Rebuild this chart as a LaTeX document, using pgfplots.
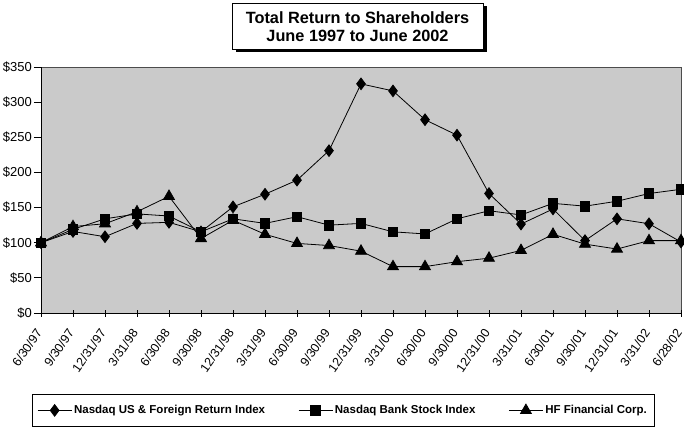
\documentclass[border=0pt]{standalone}
\usepackage{pgfplots}
\pgfplotsset{compat=1.18}
\usepackage{fontspec}
\setmainfont{Liberation Sans}

\definecolor{plotbg}{RGB}{202,202,202}

\begin{document}
\begin{tikzpicture}
\path[use as bounding box] (0pt,0pt) rectangle (684pt,-430pt);
% title box with its shadow
\fill[black] (236pt,-6pt) rectangle (487pt,-52pt);
\node[draw=black, fill=white, line width=0.8pt, minimum width=251pt, minimum height=46pt,
      align=center, inner sep=0pt, font=\bfseries\fontsize{16.3}{18.5}\selectfont]
      at (357.5pt,-26.5pt) {Total Return to Shareholders\\June 1997 to June 2002};
\begin{axis}[
    at={(41pt,-313pt)}, anchor=south west,
    scale only axis, width=640pt, height=246pt,
    xmin=0, xmax=20, ymin=0, ymax=350,
    axis x line*=bottom, axis y line*=left,
    axis line style={black, line width=0.8pt},
    axis background/.style={fill=plotbg, draw=gray!60!black, line width=0.8pt},
    xtick={0,...,20},
    xticklabels={6/30/97,9/30/97,12/31/97,3/31/98,6/30/98,9/30/98,12/31/98,3/31/99,6/30/99,9/30/99,12/31/99,3/31/00,6/30/00,9/30/00,12/31/00,3/31/01,6/30/01,9/30/01,12/31/01,3/31/02,6/28/02},
    xticklabel style={yshift=-14pt, xshift=-2pt, rotate=55, anchor=east, font=\fontsize{12.5}{15}\selectfont, inner sep=0pt},
    xtick align=center,
    ytick={0,50,...,350},
    ytick align=outside,
    yticklabel={\$\pgfmathprintnumber{\tick}},
    yticklabel style={font=\fontsize{13}{15}\selectfont, inner sep=2pt},
    /pgf/number format/assume math mode=true,
    major tick length=7pt,
    tick style={black, line width=0.8pt},
    legend columns=3,
    legend style={at={(0.472,-0.396)}, anchor=center, draw=black, line width=0.8pt,
        font=\bfseries\fontsize{11.5}{13.5}\selectfont,
        inner xsep=5pt, inner ysep=9pt,
        /tikz/every even column/.append style={column sep=31pt}},
    legend cell align=left,
    legend image code/.code={\draw[mark repeat=2, mark phase=2, line width=0.8pt] plot coordinates {(0pt,0pt) (17pt,0pt) (34pt,0pt)};},
]
\addplot[black, line width=0.8pt, mark=diamond*, mark size=5.8pt] coordinates {
(0,100) (1,116) (2,108.5) (3,127.5) (4,129) (5,115.5) (6,151) (7,169) (8,189) (9,231)
(10,326) (11,316) (12,275) (13,253) (14,170) (15,126.5) (16,148) (17,103) (18,134) (19,127) (20,101)
};
\addlegendentry{Nasdaq US \& Foreign Return Index}
\addplot[black, line width=0.8pt, mark=square*, mark size=4.8pt] coordinates {
(0,100) (1,119) (2,134) (3,141) (4,138) (5,115.5) (6,134) (7,127.5) (8,137) (9,125)
(10,127.5) (11,115.5) (12,112.5) (13,134) (14,145.5) (15,139.5) (16,156) (17,152) (18,159) (19,170) (20,176)
};
\addlegendentry{Nasdaq Bank Stock Index}
\addplot[black, line width=0.8pt, mark=triangle*, mark size=6.3pt] coordinates {
(0,100) (1,123) (2,127) (3,144) (4,166) (5,106) (6,132) (7,112) (8,99) (9,96)
(10,88) (11,66) (12,66) (13,73) (14,78) (15,89) (16,112) (17,98) (18,91) (19,103) (20,103)
};
\addlegendentry{HF Financial Corp.}
\end{axis}
\end{tikzpicture}
\end{document}
